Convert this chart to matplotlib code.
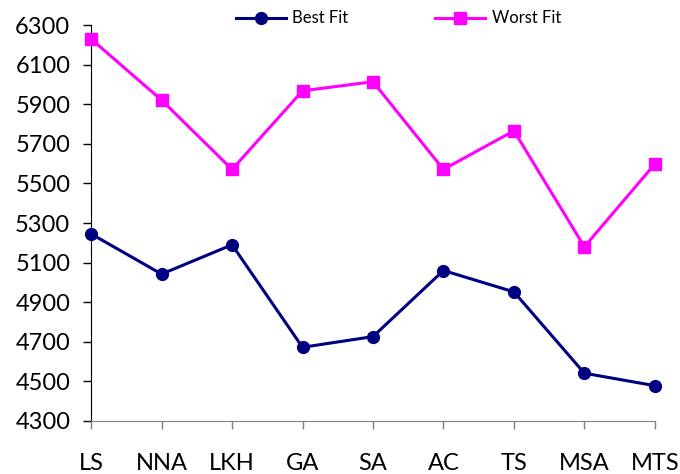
import matplotlib
matplotlib.use("Agg")
import matplotlib.pyplot as plt

plt.rcParams['font.family'] = ['Lato', 'DejaVu Sans']

methods = ["LS", "NNA", "LKH", "GA", "SA", "AC", "TS", "MSA", "MTS"]
best_fit = [5245, 5042, 5190, 4672, 4726, 5060, 4952, 4541, 4478]
worst_fit = [6230, 5921, 5571, 5968, 6014, 5571, 5766, 5180, 5598]

fig = plt.figure(figsize=(6.8, 4.74), dpi=100)
ax = fig.add_axes([0.134, 0.112, 0.829, 0.835])

x = range(len(methods))
ax.plot(x, best_fit, color="#000080", lw=2.2, marker="o", ms=8.5,
        label="Best Fit", clip_on=False, zorder=3)
ax.plot(x, worst_fit, color="#FF00FF", lw=2.2, marker="s", ms=8.5,
        label="Worst Fit", clip_on=False, zorder=3)

ax.set_xlim(0, len(methods) - 1)
ax.set_ylim(4300, 6300)
ax.set_yticks(range(4300, 6301, 200))
ax.set_xticks(list(x))
ax.set_xticklabels(methods)

for side in ("top", "right"):
    ax.spines[side].set_visible(False)
ax.spines["left"].set_color("black")
ax.spines["bottom"].set_color("#808080")
ax.tick_params(axis="y", direction="out", length=6, width=1, labelsize=17, pad=9)
ax.tick_params(axis="x", direction="out", length=6, width=1, color="#808080",
               labelsize=17, pad=17)

ax.legend(loc="upper center", bbox_to_anchor=(0.545, 1.075), ncol=2,
          frameon=False, fontsize=12, columnspacing=5.2, handlelength=3.0,
          handletextpad=0.4)

fig.savefig("out.png", dpi=100)
